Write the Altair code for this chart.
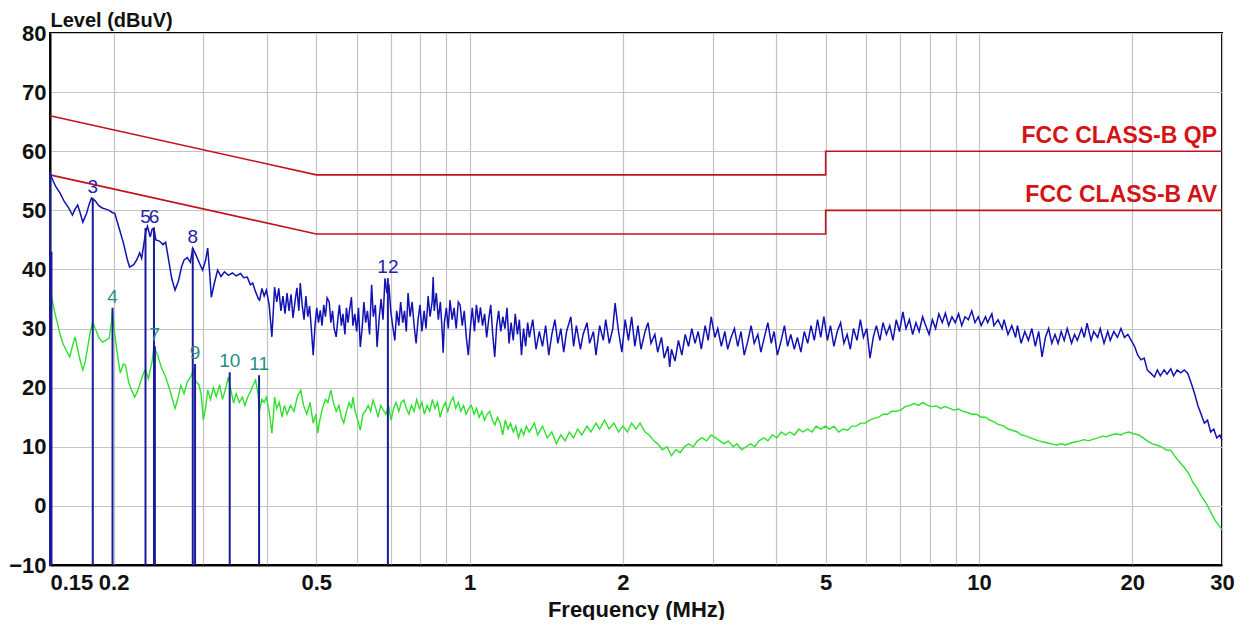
import altair as alt
import pandas as pd

# ---------------- data ----------------
# Peak / QP trace (blue): (frequency MHz, level dBuV)
qp_low = [
    (0.150, 56.5), (0.151, 55.6), (0.154, 54.0), (0.157, 52.9), (0.160, 51.5), (0.163, 50.5),
    (0.166, 49.2), (0.168, 50.2), (0.170, 50.9), (0.172, 49.5), (0.174, 48.0), (0.177, 49.5),
    (0.179, 51.0), (0.181, 52.1), (0.184, 51.6), (0.187, 50.8), (0.190, 50.4), (0.193, 50.2),
    (0.196, 50.0), (0.199, 49.6), (0.201, 49.5), (0.205, 47.0), (0.209, 44.5), (0.213, 41.5),
    (0.215, 40.4), (0.219, 40.8), (0.222, 41.6), (0.225, 42.8), (0.227, 41.9), (0.229, 44.0),
    (0.231, 46.2), (0.233, 47.3), (0.236, 45.5), (0.238, 46.8), (0.240, 47.0), (0.242, 45.0),
    (0.246, 44.8), (0.250, 44.2), (0.253, 44.6), (0.256, 42.0), (0.260, 38.5), (0.264, 36.5),
    (0.268, 38.0), (0.272, 40.5), (0.275, 41.6), (0.279, 42.0), (0.283, 41.2), (0.286, 43.6),
    (0.290, 42.5), (0.295, 41.0), (0.299, 39.9), (0.303, 41.5), (0.306, 43.6), (0.309, 39.0),
    (0.311, 35.3), (0.315, 37.5), (0.320, 39.9), (0.325, 38.8), (0.330, 39.6), (0.336, 39.0),
    (0.342, 39.4), (0.348, 38.9), (0.355, 39.3), (0.360, 38.6), (0.366, 38.7), (0.371, 37.4),
    (0.375, 37.7), (0.380, 36.2), (0.385, 35.0), (0.387, 34.8), (0.391, 36.8), (0.395, 35.5),
    (0.399, 36.5), (0.404, 34.0), (0.409, 28.6), (0.412, 33.5), (0.414, 37.0), (0.418, 34.5),
    (0.422, 36.8), (0.426, 33.0), (0.430, 35.5), (0.434, 32.5), (0.438, 36.0),
]
qp_mid = [
    (0.442, 33.0), (0.446, 35.8), (0.450, 31.8), (0.454, 34.5), (0.458, 36.9), (0.462, 33.0),
    (0.465, 37.7), (0.469, 34.0), (0.473, 31.5), (0.477, 35.5), (0.481, 32.0), (0.485, 33.8),
    (0.489, 29.8), (0.493, 25.5), (0.497, 30.5), (0.501, 33.5), (0.505, 31.0), (0.509, 33.1),
    (0.513, 30.5), (0.517, 34.0), (0.521, 32.0), (0.525, 35.2), (0.530, 34.5), (0.534, 31.0),
    (0.538, 33.0), (0.542, 30.0), (0.547, 28.6), (0.551, 31.5), (0.555, 34.0), (0.560, 30.5),
    (0.564, 32.5), (0.569, 29.0), (0.573, 33.5), (0.577, 31.0), (0.581, 33.1), (0.586, 35.3),
    (0.590, 30.5), (0.595, 32.5), (0.600, 29.5), (0.605, 33.5), (0.610, 26.9), (0.615, 30.0),
    (0.620, 34.5), (0.625, 31.0), (0.630, 33.0), (0.636, 29.0), (0.642, 37.4), (0.647, 32.0),
    (0.653, 34.0), (0.658, 26.9), (0.664, 31.5), (0.670, 35.0), (0.676, 31.5), (0.682, 38.5),
    (0.688, 36.0), (0.694, 37.5), (0.700, 33.0), (0.706, 30.5), (0.713, 28.0), (0.719, 33.0),
    (0.726, 30.5), (0.732, 34.5), (0.739, 31.0), (0.745, 33.0), (0.751, 29.5), (0.757, 36.0),
    (0.764, 32.0), (0.771, 34.5), (0.778, 30.5), (0.785, 27.5), (0.792, 31.5), (0.799, 34.0),
    (0.806, 29.5), (0.814, 33.0), (0.821, 30.0), (0.829, 35.5), (0.836, 32.0), (0.844, 34.5),
    (0.848, 38.7), (0.852, 33.0), (0.860, 36.0), (0.868, 31.5), (0.876, 34.5), (0.884, 29.0),
    (0.887, 25.9), (0.892, 31.0), (0.900, 33.5), (0.908, 30.0), (0.915, 34.8), (0.924, 31.5),
    (0.932, 33.5), (0.941, 30.0), (0.950, 34.5), (0.958, 34.0), (0.967, 30.5), (0.976, 33.0),
    (0.985, 28.5), (0.994, 25.5), (1.003, 30.0), (1.012, 33.5), (1.022, 29.5), (1.031, 34.0),
    (1.041, 31.0), (1.050, 33.6), (1.060, 30.5), (1.070, 32.5), (1.080, 28.5), (1.090, 31.5),
    (1.100, 34.0), (1.110, 29.0), (1.120, 25.2), (1.130, 30.5), (1.140, 33.0), (1.151, 29.5),
    (1.162, 32.0), (1.173, 30.0), (1.184, 33.5), (1.195, 27.5), (1.206, 31.0), (1.218, 28.0),
    (1.229, 32.5), (1.241, 29.0), (1.252, 31.5), (1.264, 25.5), (1.276, 30.0), (1.288, 27.0),
    (1.300, 31.0),
]
qp_band = [
    (1.31, 28.5), (1.33, 31.5), (1.35, 26.5), (1.37, 29.5), (1.39, 27.0), (1.41, 30.5),
    (1.43, 25.5), (1.45, 29.0), (1.47, 31.5), (1.49, 27.5), (1.51, 30.0), (1.53, 26.0),
    (1.55, 29.5), (1.58, 32.0), (1.60, 27.0), (1.62, 30.5), (1.65, 26.5), (1.67, 29.0),
    (1.70, 31.0), (1.72, 27.5), (1.75, 29.5), (1.77, 25.5), (1.80, 30.5), (1.83, 28.0),
    (1.85, 31.5), (1.88, 27.5), (1.91, 30.0), (1.93, 34.3), (1.96, 29.5), (1.99, 26.0),
    (2.02, 31.5), (2.05, 28.0), (2.08, 32.0), (2.11, 27.0), (2.14, 30.5), (2.17, 26.5),
    (2.21, 29.5), (2.24, 31.0), (2.27, 27.5), (2.31, 29.0), (2.34, 26.0), (2.38, 28.5),
    (2.41, 25.0), (2.45, 27.0), (2.47, 23.5), (2.49, 26.5), (2.53, 24.5), (2.57, 28.0),
    (2.61, 25.5), (2.65, 29.0), (2.69, 27.0), (2.73, 30.0), (2.77, 27.5), (2.81, 29.5),
    (2.85, 26.5), (2.90, 30.5), (2.94, 28.0), (2.98, 32.0), (3.03, 28.5), (3.07, 30.0),
    (3.12, 27.0), (3.17, 29.5), (3.21, 26.5), (3.26, 28.5), (3.31, 30.0), (3.36, 27.0),
    (3.41, 29.5), (3.46, 25.5), (3.52, 28.0), (3.57, 30.5), (3.62, 27.5), (3.68, 29.0),
    (3.73, 26.0), (3.79, 28.5), (3.85, 31.0), (3.91, 27.5), (3.96, 29.5), (4.02, 25.5),
    (4.09, 28.0), (4.15, 30.5), (4.21, 27.0), (4.27, 29.0), (4.34, 26.5), (4.40, 28.5),
    (4.47, 26.0), (4.54, 29.5), (4.61, 27.5), (4.68, 30.5), (4.75, 28.0), (4.82, 31.5),
    (4.89, 28.5), (4.96, 32.0),
]
qp_high = [
    (5.04, 28.0), (5.11, 30.5), (5.19, 27.0), (5.27, 29.5), (5.35, 31.0), (5.43, 27.5),
    (5.51, 29.0), (5.59, 26.5), (5.67, 30.0), (5.76, 28.0), (5.85, 31.5), (5.93, 28.5),
    (6.02, 30.0), (6.11, 25.0), (6.20, 28.5), (6.29, 30.5), (6.39, 28.0), (6.48, 31.0),
    (6.58, 29.0), (6.68, 30.5), (6.78, 28.0), (6.88, 31.5), (6.98, 29.5), (7.09, 32.8),
    (7.19, 30.0), (7.30, 31.5), (7.41, 29.0), (7.52, 31.0), (7.63, 29.5), (7.75, 32.0),
    (7.86, 30.5), (7.98, 29.0), (8.10, 31.5), (8.22, 30.0), (8.34, 32.5), (8.47, 31.0),
    (8.59, 32.6), (8.72, 30.5), (8.85, 32.0), (8.98, 31.0), (9.12, 32.5), (9.25, 30.5),
    (9.39, 32.0), (9.53, 31.5), (9.68, 33.0), (9.82, 31.0), (9.97, 32.0), (10.1, 30.5),
    (10.3, 32.0), (10.4, 31.0), (10.6, 32.5), (10.7, 30.5), (10.9, 31.5), (11.1, 30.0),
    (11.2, 31.5), (11.4, 29.0), (11.6, 30.5), (11.8, 28.5), (11.9, 30.5), (12.1, 27.5),
    (12.3, 29.5), (12.5, 28.0), (12.7, 30.0), (12.9, 27.0), (13.1, 29.5), (13.3, 25.2),
    (13.5, 28.5), (13.7, 30.0), (13.9, 27.5), (14.1, 29.0), (14.3, 27.5), (14.5, 29.5),
    (14.7, 28.0), (14.9, 30.0), (15.2, 27.5), (15.4, 29.0), (15.6, 28.0), (15.9, 30.0),
    (16.1, 28.5), (16.3, 30.9), (16.6, 28.0), (16.8, 29.5), (17.1, 28.5), (17.3, 30.0),
    (17.6, 27.5), (17.9, 29.5), (18.1, 28.0), (18.4, 29.5), (18.7, 28.5), (19.0, 30.0),
    (19.3, 28.5), (19.6, 29.0), (19.9, 28.0), (20.2, 27.0), (20.5, 25.5), (20.8, 24.7),
    (21.1, 25.0), (21.4, 23.0), (21.7, 22.5), (22.1, 21.8), (22.4, 23.0), (22.7, 22.0),
    (23.1, 23.0), (23.4, 22.3), (23.8, 23.2), (24.1, 22.0), (24.5, 23.0), (24.9, 22.5),
    (25.3, 23.0), (25.7, 22.4), (26.1, 20.8), (26.5, 19.0), (26.9, 17.0), (27.3, 15.5),
    (27.7, 14.0), (28.1, 14.5), (28.5, 12.5), (28.9, 13.0), (29.3, 11.5), (29.7, 12.0),
    (30.0, 11.1),
]

# Average trace (green)
av_low = [
    (0.150, 38.0), (0.151, 35.5), (0.153, 33.0), (0.155, 31.0), (0.157, 29.0), (0.159, 27.5),
    (0.162, 26.0), (0.164, 25.2), (0.166, 27.0), (0.168, 28.6), (0.170, 26.5), (0.172, 24.5),
    (0.174, 23.0), (0.176, 24.5), (0.178, 27.0), (0.180, 29.5), (0.182, 31.1), (0.184, 30.0),
    (0.187, 28.5), (0.190, 27.7), (0.193, 28.0), (0.196, 28.4), (0.198, 31.0), (0.199, 33.1),
    (0.201, 29.0), (0.204, 25.0), (0.206, 22.5), (0.209, 24.0), (0.211, 23.8), (0.214, 21.0),
    (0.217, 19.5), (0.220, 18.4), (0.223, 19.5), (0.226, 21.0), (0.229, 22.5), (0.231, 23.0),
    (0.234, 21.5), (0.238, 24.5), (0.240, 26.9), (0.244, 25.5), (0.248, 23.5), (0.253, 21.8),
    (0.257, 20.0), (0.261, 18.0), (0.264, 16.5), (0.268, 18.5), (0.271, 20.4), (0.275, 19.0),
    (0.279, 21.0), (0.284, 22.0), (0.287, 23.0), (0.290, 21.0), (0.294, 20.5), (0.297, 19.0),
    (0.300, 14.5), (0.303, 16.5), (0.306, 19.6), (0.310, 18.0), (0.314, 20.0), (0.318, 18.5),
    (0.323, 20.5), (0.327, 18.0), (0.331, 19.5), (0.336, 21.8), (0.340, 19.5), (0.344, 17.4),
    (0.348, 19.0), (0.353, 17.5), (0.358, 18.4), (0.362, 17.0), (0.367, 18.5), (0.372, 19.5),
    (0.376, 20.5), (0.380, 21.3), (0.384, 19.0), (0.387, 16.2), (0.391, 18.0), (0.395, 17.5),
    (0.399, 18.4), (0.404, 16.0), (0.409, 12.3), (0.412, 15.5), (0.414, 18.4), (0.418, 16.5),
    (0.423, 17.5), (0.428, 15.0), (0.433, 17.0), (0.438, 15.5),
]
av_mid = [
    (0.445, 17.0), (0.452, 16.0), (0.459, 18.5), (0.466, 19.6), (0.472, 17.0), (0.479, 15.5),
    (0.486, 17.5), (0.493, 14.0), (0.499, 15.5), (0.503, 12.3), (0.508, 14.5), (0.514, 16.5),
    (0.521, 18.0), (0.527, 17.5), (0.534, 19.6), (0.540, 17.5), (0.547, 16.0), (0.554, 17.0),
    (0.560, 15.0), (0.566, 14.0), (0.573, 16.0), (0.580, 17.5), (0.586, 16.5), (0.590, 18.4),
    (0.596, 16.0), (0.603, 14.5), (0.610, 12.8), (0.617, 15.5), (0.624, 16.0), (0.632, 17.0),
    (0.639, 16.0), (0.646, 17.9), (0.654, 16.5), (0.661, 15.0), (0.669, 17.0), (0.677, 16.2),
    (0.685, 15.5), (0.693, 17.0), (0.701, 14.5), (0.709, 16.5), (0.717, 17.5), (0.726, 16.0),
    (0.734, 17.5), (0.743, 17.9), (0.751, 16.5), (0.760, 15.5), (0.769, 17.0), (0.778, 16.0),
    (0.787, 18.0), (0.797, 16.5), (0.806, 17.5), (0.815, 15.5), (0.825, 17.0), (0.835, 16.0),
    (0.845, 18.0), (0.855, 16.5), (0.865, 17.5), (0.875, 15.0), (0.885, 16.5), (0.896, 17.5),
    (0.906, 16.0), (0.917, 17.5), (0.928, 18.4), (0.939, 16.5), (0.950, 17.5), (0.961, 16.0),
    (0.973, 17.0), (0.984, 15.5), (0.996, 16.5), (1.008, 17.0), (1.020, 15.5), (1.032, 16.5),
    (1.044, 15.0), (1.057, 16.0), (1.069, 14.5), (1.082, 15.5), (1.095, 16.0), (1.108, 14.5),
    (1.121, 13.7), (1.134, 15.0), (1.148, 14.0), (1.161, 12.0), (1.175, 14.5), (1.189, 13.0),
    (1.203, 14.0), (1.218, 12.5), (1.232, 13.5), (1.247, 11.5), (1.262, 13.0), (1.277, 12.0),
    (1.292, 13.5),
]
av_band = [
    (1.31, 12.5), (1.34, 14.0), (1.36, 12.0), (1.39, 13.5), (1.42, 11.5), (1.45, 12.5),
    (1.48, 10.5), (1.51, 12.0), (1.54, 11.0), (1.57, 12.5), (1.60, 11.5), (1.63, 13.0),
    (1.66, 12.0), (1.70, 13.5), (1.73, 12.5), (1.77, 14.0), (1.80, 13.0), (1.84, 14.5),
    (1.88, 13.0), (1.92, 14.0), (1.96, 12.5), (2.00, 13.5), (2.04, 12.5), (2.08, 14.0),
    (2.12, 13.0), (2.16, 14.0), (2.21, 12.5), (2.25, 12.0), (2.30, 11.0), (2.34, 10.5),
    (2.39, 9.5), (2.44, 10.0), (2.49, 8.5), (2.54, 9.5), (2.59, 9.0), (2.64, 10.0),
    (2.69, 10.5), (2.75, 10.0), (2.80, 11.0), (2.86, 11.5), (2.92, 11.0), (2.98, 12.0),
    (3.04, 11.5), (3.10, 11.0), (3.16, 10.5), (3.22, 11.0), (3.29, 10.0), (3.35, 10.5),
    (3.42, 9.5), (3.49, 10.0), (3.56, 10.5), (3.63, 10.0), (3.70, 11.0), (3.78, 11.5),
    (3.85, 11.0), (3.93, 12.0), (4.01, 11.5), (4.09, 12.5), (4.17, 12.0), (4.25, 12.5),
    (4.34, 12.0), (4.43, 13.0), (4.51, 12.5), (4.61, 13.0), (4.70, 12.5), (4.79, 13.5),
    (4.89, 13.0), (4.99, 13.5),
]
av_high = [
    (5.09, 13.0), (5.19, 13.5), (5.30, 12.5), (5.41, 13.0), (5.52, 12.8), (5.63, 13.5),
    (5.74, 13.5), (5.86, 14.0), (5.98, 14.0), (6.10, 14.5), (6.22, 14.8), (6.35, 15.0),
    (6.48, 15.5), (6.61, 15.5), (6.74, 16.0), (6.88, 16.0), (7.02, 16.2), (7.16, 16.8),
    (7.31, 17.0), (7.46, 17.3), (7.61, 17.0), (7.76, 17.5), (7.92, 17.0), (8.08, 16.8),
    (8.24, 16.9), (8.41, 16.5), (8.58, 16.8), (8.76, 16.5), (8.93, 16.2), (9.12, 16.4),
    (9.30, 16.0), (9.49, 15.8), (9.68, 15.5), (9.88, 15.5), (10.1, 15.0), (10.3, 15.0),
    (10.5, 14.5), (10.7, 14.2), (10.9, 13.8), (11.2, 13.5), (11.4, 13.0), (11.6, 12.8),
    (11.9, 12.5), (12.1, 12.0), (12.4, 11.8), (12.6, 11.5), (12.9, 11.2), (13.1, 11.0),
    (13.4, 10.8), (13.7, 10.6), (14.0, 10.4), (14.2, 10.3), (14.5, 10.5), (14.8, 10.3),
    (15.1, 10.6), (15.4, 10.8), (15.8, 11.0), (16.1, 11.2), (16.4, 11.0), (16.8, 11.3),
    (17.1, 11.5), (17.5, 11.8), (17.8, 11.7), (18.2, 12.0), (18.6, 12.2), (19.0, 12.0),
    (19.3, 12.3), (19.7, 12.5), (20.1, 12.2), (20.6, 12.0), (21.0, 11.5), (21.4, 11.0),
    (21.9, 10.5), (22.3, 10.3), (22.8, 10.0), (23.3, 9.5), (23.8, 9.4), (24.2, 8.5),
    (24.7, 7.5), (25.3, 6.5), (25.8, 5.5), (26.3, 4.0), (26.8, 3.0), (27.4, 1.5),
    (27.9, 0.5), (28.5, -1.0), (29.1, -2.5), (29.7, -3.5), (30.0, -4.0),
]

# FCC Class B limits
limit_names = ["FCC CLASS-B QP", "FCC CLASS-B AV"]
limit_freq = [0.15, 0.5, 5.0, 5.0, 30.0]
limit_qp = [66, 56, 56, 60, 60]
limit_av = [56, 46, 46, 50, 50]

# Markers
marker_id = ["1", "2", "3", "4", "5", "6", "7", "8", "9", "10", "11", "12"]
marker_freq = [0.150, 0.151, 0.182, 0.199, 0.231, 0.240, 0.241, 0.286, 0.289, 0.338, 0.386, 0.691]
marker_level = [56.5, 43.0, 52.1, 33.5, 47.0, 47.0, 27.0, 43.6, 24.0, 22.6, 22.1, 38.5]
marker_kind = ["QP", "AV", "QP", "AV", "QP", "QP", "AV", "QP", "AV", "AV", "AV", "QP"]

x_grid = [0.15, 0.2, 0.3, 0.4, 0.5, 0.6, 0.7, 0.8, 0.9, 1, 2, 3, 4, 5, 6, 7, 8, 9, 10, 20, 30]
x_labels = [0.15, 0.2, 0.5, 1, 2, 5, 10, 20, 30]
y_ticks = [-10, 0, 10, 20, 30, 40, 50, 60, 70, 80]

# ---------------- tables ----------------
qp_df = pd.DataFrame(qp_low + qp_mid + qp_band + qp_high, columns=["f", "v"])
av_df = pd.DataFrame(av_low + av_mid + av_band + av_high, columns=["f", "v"])
lim_rows = []
for name, vals in zip(limit_names, [limit_qp, limit_av]):
    for i, (f, v) in enumerate(zip(limit_freq, vals)):
        lim_rows.append({"name": name, "f": f, "v": v, "o": i})
lim_df = pd.DataFrame(lim_rows)
lim_lab = pd.DataFrame({"name": limit_names, "f": [30.0, 30.0], "v": [limit_qp[-1], limit_av[-1]]})
mk_df = pd.DataFrame({"id": marker_id, "f": marker_freq, "v": marker_level, "kind": marker_kind,
                      "base": [-10] * len(marker_id)})

FONT = "Liberation Sans"
xs = alt.Scale(type="log", domain=[0.15, 30], nice=False)
ys = alt.Scale(domain=[-10, 80], nice=False)

label_test = " || ".join(f"datum.value == {v}" for v in x_labels)

x_axis = alt.Axis(
    values=x_grid, title="Frequency (MHz)", format="~g",
    labelExpr=f"({label_test}) ? datum.label : ''",
    labelAlign={"condition": {"test": "datum.value == 0.15", "value": "left"}, "value": "center"},
    labelFont=FONT, labelFontSize=22, labelFontWeight="bold", labelColor="#111111",
    labelPadding=7, labelFlush=False, labelOverlap=False,
    titleFont=FONT, titleFontSize=22, titleFontWeight="bold", titleColor="#111111", titlePadding=6,
    grid=True, gridColor="#c4c4c4", gridWidth=1.2, ticks=False,
    domainColor="#000000", domainWidth=2,
)
y_axis = alt.Axis(
    values=y_ticks, title="Level (dBuV)",
    labelFont=FONT, labelFontSize=22, labelFontWeight="bold", labelColor="#111111", labelPadding=4,
    titleFont=FONT, titleFontSize=20, titleFontWeight="bold", titleColor="#111111",
    titleAngle=0, titleAlign="left", titleBaseline="alphabetic", titleX=0, titleY=-7,
    grid=True, gridColor="#c4c4c4", gridWidth=1.2, ticks=False,
    domainColor="#000000", domainWidth=2,
)

base_x = alt.X("f:Q", scale=xs, axis=x_axis)
base_y = alt.Y("v:Q", scale=ys, axis=y_axis)

limits = alt.Chart(lim_df).mark_line(color="#c0141c", strokeWidth=1.6).encode(
    x=base_x, y=base_y, detail="name:N", order="o:Q")
lim_text = alt.Chart(lim_lab).mark_text(
    align="right", baseline="bottom", dx=-5, dy=-3, font=FONT, fontSize=23, fontWeight="bold",
    color="#d41414").encode(x="f:Q", y="v:Q", text="name:N")

av_line = alt.Chart(av_df).mark_line(color="#2ee02e", strokeWidth=1.4).encode(
    x="f:Q", y="v:Q", order="f:Q")
qp_line = alt.Chart(qp_df).mark_line(color="#1212b4", strokeWidth=1.5).encode(
    x="f:Q", y="v:Q", order="f:Q")

rules = alt.Chart(mk_df).mark_rule(color="#1a1a9c", strokeWidth=2).encode(
    x="f:Q", y="base:Q", y2="v:Q")
shown = alt.datum.f > 0.16
av_lab = alt.Chart(mk_df).transform_filter(shown).transform_filter(alt.datum.kind == "AV").mark_text(
    baseline="bottom", dy=-1, font=FONT, fontSize=19, color="#2a8c86").encode(
    x="f:Q", y="v:Q", text="id:N")
qp_lab = alt.Chart(mk_df).transform_filter(shown).transform_filter(alt.datum.kind == "QP").mark_text(
    baseline="bottom", dy=-1, font=FONT, fontSize=19, color="#2424a8").encode(
    x="f:Q", y="v:Q", text="id:N")

chart = alt.layer(limits, av_line, qp_line, rules, av_lab, qp_lab, lim_text).properties(
    width=1172, height=532,
    autosize=alt.AutoSizeParams(type="none"),
    padding={"left": 42, "top": 25, "right": 24, "bottom": 55},
    background="#ffffff",
).configure_view(stroke="#000000", strokeWidth=2)

chart.save("out.html", embed_options={"renderer": "svg", "actions": False})
